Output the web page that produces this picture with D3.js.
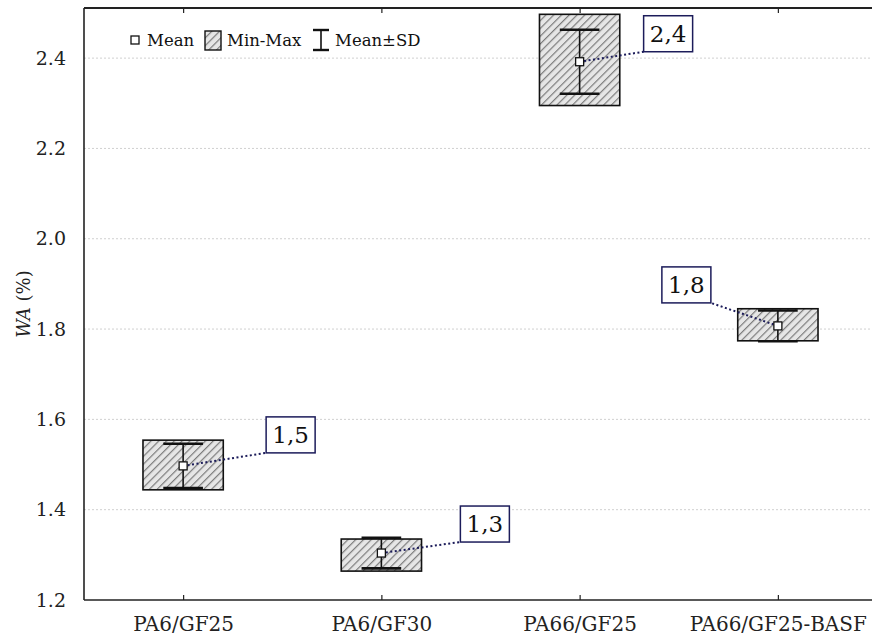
<!DOCTYPE html>
<html>
<head>
<meta charset="utf-8">
<script src="https://cdn.jsdelivr.net/npm/d3@7"></script>
<style>
  html, body { margin: 0; padding: 0; background: #fff; }
  svg { display: block; font-family: "DejaVu Serif", "Liberation Serif", serif; }
</style>
</head>
<body>
<div id="chart"></div>
<script>
// Water absorption of glass-fibre reinforced polyamides
const categories = ["PA6/GF25", "PA6/GF30", "PA66/GF25", "PA66/GF25-BASF"];
const meanValues = [1.497, 1.304, 2.392, 1.807];
const minValues  = [1.444, 1.264, 2.295, 1.774];
const maxValues  = [1.554, 1.335, 2.497, 1.845];
const sdValues   = [0.049, 0.034, 0.071, 0.034];
const yTicks = [1.2, 1.4, 1.6, 1.8, 2.0, 2.2, 2.4];

// callout placement relative to each mean (corner of the value box)
const calloutOffsets = [[83, -13], [79, -11], [64, -10], [-67, -23]];

const W = 872, H = 637;
const margin = { left: 84, top: 8, bottom: 600, right: 877 };

const svg = d3.select("#chart").append("svg")
  .attr("width", W).attr("height", H);

const x = d3.scalePoint().domain(categories).range([margin.left, margin.right]).padding(0.5);
const y = d3.scaleLinear().domain([1.2, 2.511]).range([margin.bottom, margin.top]);
const step = x.step();

// hatch pattern for the min-max boxes
const defs = svg.append("defs");
const pat = defs.append("pattern")
  .attr("id", "hatch").attr("patternUnits", "userSpaceOnUse")
  .attr("width", 5.5).attr("height", 5.5)
  .attr("patternTransform", "rotate(45)");
pat.append("rect").attr("width", 5.5).attr("height", 5.5).attr("fill", "#e6e6e6");
pat.append("line").attr("x1", 0).attr("y1", 0).attr("x2", 0).attr("y2", 5.5)
  .attr("stroke", "#7c7c7c").attr("stroke-width", 2.4);

// gridlines
svg.append("g").selectAll("line").data(yTicks.filter(t => t > 1.2)).join("line")
  .attr("x1", margin.left).attr("x2", W)
  .attr("y1", d => y(d)).attr("y2", d => y(d))
  .attr("stroke", "#d0d0d0").attr("stroke-width", 1).attr("stroke-dasharray", "2,2");

// axes
const yAxis = d3.axisLeft(y).tickValues(yTicks).tickFormat(d3.format(".1f")).tickSize(0).tickPadding(18);
const gy = svg.append("g").attr("transform", `translate(${margin.left},0)`).call(yAxis);
gy.select(".domain").remove();
gy.selectAll("text").attr("font-size", 19).attr("fill", "#222").attr("font-family", "DejaVu Serif");

const xAxis = d3.axisBottom(x).tickSize(-5).tickPadding(17);
const gx = svg.append("g").attr("transform", `translate(0,${margin.bottom})`).call(xAxis);
gx.select(".domain").remove();
gx.selectAll("line").attr("stroke", "#222").attr("stroke-width", 1.2);
gx.selectAll("text").attr("font-size", 20).attr("fill", "#222").attr("font-family", "DejaVu Serif");

const xTop = d3.axisTop(x).tickSize(-5).tickFormat("");
const gxt = svg.append("g").attr("transform", `translate(0,${margin.top})`).call(xTop);
gxt.select(".domain").remove();
gxt.selectAll("line").attr("stroke", "#222").attr("stroke-width", 1.2);

// frame lines
svg.append("line").attr("x1", margin.left).attr("x2", margin.left)
  .attr("y1", margin.top).attr("y2", margin.bottom).attr("stroke", "#222").attr("stroke-width", 1.6);
svg.append("line").attr("x1", margin.left).attr("x2", W)
  .attr("y1", margin.bottom).attr("y2", margin.bottom).attr("stroke", "#222").attr("stroke-width", 1.6);
svg.append("line").attr("x1", margin.left).attr("x2", W)
  .attr("y1", margin.top).attr("y2", margin.top).attr("stroke", "#222").attr("stroke-width", 2);

// axis title
const title = svg.append("text")
  .attr("transform", `translate(30,${(margin.top + margin.bottom) / 2}) rotate(-90)`)
  .attr("text-anchor", "middle").attr("font-size", 18).attr("fill", "#222");
title.append("tspan").attr("font-style", "italic").text("WA");
title.append("tspan").text(" (%)");

const rows = categories.map((c, i) => ({
  c, mean: meanValues[i], min: minValues[i], max: maxValues[i], sd: sdValues[i], off: calloutOffsets[i]
}));

const boxW = step * 0.405, capW = step * 0.2;
const g = svg.append("g");

// min-max boxes
g.selectAll("rect.box").data(rows).join("rect").attr("class", "box")
  .attr("x", d => x(d.c) - boxW / 2).attr("width", boxW)
  .attr("y", d => y(d.max)).attr("height", d => y(d.min) - y(d.max))
  .attr("fill", "url(#hatch)").attr("stroke", "#111").attr("stroke-width", 1.6);

// mean ± SD whiskers
g.selectAll("line.stem").data(rows).join("line").attr("class", "stem")
  .attr("x1", d => x(d.c)).attr("x2", d => x(d.c))
  .attr("y1", d => y(d.mean + d.sd)).attr("y2", d => y(d.mean - d.sd))
  .attr("stroke", "#111").attr("stroke-width", 1.6);
["+", "-"].forEach(sign => {
  g.selectAll("line.cap" + (sign === "+" ? "hi" : "lo")).data(rows).join("line")
    .attr("class", "cap" + (sign === "+" ? "hi" : "lo"))
    .attr("x1", d => x(d.c) - capW / 2).attr("x2", d => x(d.c) + capW / 2)
    .attr("y1", d => y(sign === "+" ? d.mean + d.sd : d.mean - d.sd))
    .attr("y2", d => y(sign === "+" ? d.mean + d.sd : d.mean - d.sd))
    .attr("stroke", "#111").attr("stroke-width", 2.6);
});

// callouts with dotted leaders
const fmt = v => d3.format(".1f")(v).replace(".", ",");
const lblW = 49, lblH = 36;
const call = g.selectAll("g.callout").data(rows).join("g").attr("class", "callout");
call.append("line")
  .attr("x1", d => x(d.c)).attr("y1", d => y(d.mean))
  .attr("x2", d => x(d.c) + d.off[0]).attr("y2", d => y(d.mean) + d.off[1])
  .attr("stroke", "#1c1c5a").attr("stroke-width", 2).attr("stroke-dasharray", "2,2.5");
call.append("rect")
  .attr("x", d => d.off[0] > 0 ? x(d.c) + d.off[0] : x(d.c) + d.off[0] - lblW)
  .attr("y", d => y(d.mean) + d.off[1] - lblH)
  .attr("width", lblW).attr("height", lblH)
  .attr("fill", "#fff").attr("stroke", "#1c1c5a").attr("stroke-width", 1.5);
call.append("text")
  .attr("x", d => (d.off[0] > 0 ? x(d.c) + d.off[0] : x(d.c) + d.off[0] - lblW) + lblW / 2)
  .attr("y", d => y(d.mean) + d.off[1] - lblH / 2)
  .attr("dy", "0.36em").attr("text-anchor", "middle")
  .attr("font-size", 23).attr("fill", "#111").text(d => fmt(d.mean));

// mean markers
g.selectAll("rect.mean").data(rows).join("rect").attr("class", "mean")
  .attr("x", d => x(d.c) - 4).attr("y", d => y(d.mean) - 4)
  .attr("width", 8).attr("height", 8)
  .attr("fill", "#fff").attr("stroke", "#111").attr("stroke-width", 1.3);

// legend
const lg = svg.append("g").attr("transform", "translate(0,40)");
lg.append("rect").attr("x", 131).attr("y", -4).attr("width", 8).attr("height", 8)
  .attr("fill", "#fff").attr("stroke", "#111").attr("stroke-width", 1.3);
lg.append("text").attr("x", 147).attr("y", 0).attr("dy", "0.35em").attr("font-size", 16.5).attr("fill", "#111").text("Mean");
lg.append("rect").attr("x", 205).attr("y", -9).attr("width", 16).attr("height", 19)
  .attr("fill", "url(#hatch)").attr("stroke", "#111").attr("stroke-width", 1.4);
lg.append("text").attr("x", 227).attr("y", 0).attr("dy", "0.35em").attr("font-size", 16.5).attr("fill", "#111").text("Min-Max");
lg.append("line").attr("x1", 321).attr("x2", 321).attr("y1", -10).attr("y2", 10).attr("stroke", "#111").attr("stroke-width", 1.6);
lg.append("line").attr("x1", 313).attr("x2", 329).attr("y1", -10).attr("y2", -10).attr("stroke", "#111").attr("stroke-width", 2.4);
lg.append("line").attr("x1", 313).attr("x2", 329).attr("y1", 10).attr("y2", 10).attr("stroke", "#111").attr("stroke-width", 2.4);
lg.append("text").attr("x", 335).attr("y", 0).attr("dy", "0.35em").attr("font-size", 16.5).attr("fill", "#111").text("Mean±SD");
</script>
</body>
</html>
